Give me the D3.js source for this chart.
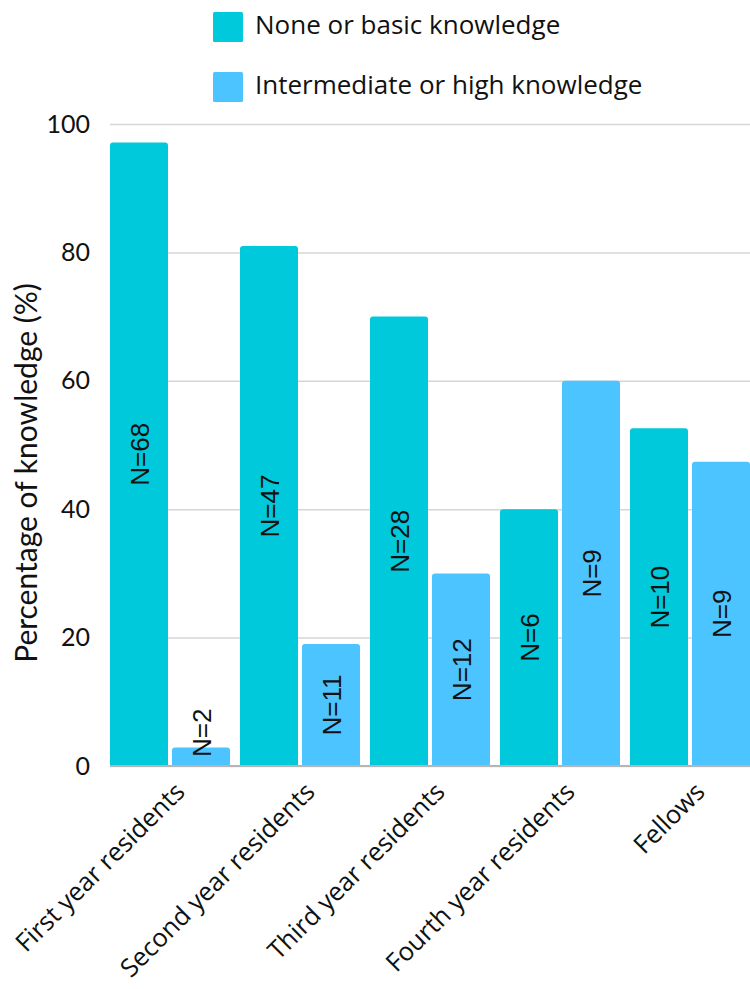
<!DOCTYPE html>
<html>
<head>
<meta charset="utf-8">
<script src="https://cdn.jsdelivr.net/npm/d3@7"></script>
<style>
  html, body { margin: 0; padding: 0; background: #fff; }
  svg { display: block; }
</style>
</head>
<body>
<svg id="chart" width="750" height="989"></svg>
<script>
const categories = ["First year residents", "Second year residents", "Third year residents", "Fourth year residents", "Fellows"];
const seriesNames = ["None or basic knowledge", "Intermediate or high knowledge"];
const basicValues = [97.1, 81.0, 70.0, 40.0, 52.6];
const highValues = [2.9, 19.0, 30.0, 60.0, 47.4];
const basicCounts = ["N=68", "N=47", "N=28", "N=6", "N=10"];
const highCounts = ["N=2", "N=11", "N=12", "N=9", "N=9"];
const yTicks = [0, 20, 40, 60, 80, 100];
const colors = ["#00C9DC", "#4BC4FF"];

(function () {
const svg = d3.select("#chart");
const plotTop = 124, plotBottom = 766, plotLeft = 110, plotRight = 750;

const x0 = d3.scaleBand().domain(categories).range([plotLeft, plotRight]).paddingInner(10 / 130).paddingOuter(0);
const x1 = d3.scaleBand().domain(seriesNames).range([0, x0.bandwidth()]).paddingInner(4 / 62).paddingOuter(0);
const y = d3.scaleLinear().domain([0, 100]).range([plotBottom, plotTop]);

const yAxis = d3.axisLeft(y).tickValues(yTicks).tickSize(-(plotRight - plotLeft)).tickPadding(20).tickFormat(d3.format("d"));
const gAxis = svg.append("g").attr("transform", `translate(${plotLeft},0)`).call(yAxis);
gAxis.select(".domain").remove();
gAxis.selectAll(".tick line").attr("stroke", "#d6d6d6").attr("stroke-width", 1.5);
gAxis.selectAll(".tick text")
  .attr("font-family", "Lato, 'Open Sans', sans-serif")
  .attr("font-size", 25)
  .attr("fill", "#111")
  .attr("x", -20);

const rows = categories.map((c, i) => ({
  cat: c,
  items: [
    { s: seriesNames[0], v: basicValues[i], n: basicCounts[i], c: colors[0] },
    { s: seriesNames[1], v: highValues[i], n: highCounts[i], c: colors[1] }
  ]
}));

const r = 3;
function topRoundedBar(xp, yp, w, h) {
  const rr = Math.min(r, h, w / 2);
  return `M${xp},${yp + h} V${yp + rr} Q${xp},${yp} ${xp + rr},${yp} H${xp + w - rr} Q${xp + w},${yp} ${xp + w},${yp + rr} V${yp + h} Z`;
}

const groups = svg.append("g").selectAll("g").data(rows).join("g")
  .attr("transform", d => `translate(${x0(d.cat)},0)`);

groups.selectAll("path").data(d => d.items).join("path")
  .attr("d", d => topRoundedBar(x1(d.s), y(d.v), x1.bandwidth(), y(0) - y(d.v)))
  .attr("fill", d => d.c);

svg.append("line").attr("x1", plotLeft).attr("x2", plotRight).attr("y1", y(0)).attr("y2", y(0))
  .attr("stroke", "#b5b5b5").attr("stroke-width", 2);

groups.selectAll("text.n").data(d => d.items).join("text")
  .attr("class", "n")
  .attr("font-family", "'Liberation Sans', Arial, sans-serif")
  .attr("font-size", 26)
  .attr("fill", "#111")
  .attr("text-anchor", "middle")
  .attr("dy", "0.36em")
  .text(d => d.n)
  .attr("transform", function (d) {
    const len = this.getComputedTextLength();
    const cx = x1(d.s) + x1.bandwidth() / 2 + 1;
    let cy = y(d.v / 2);
    cy = Math.min(cy, y(0) - 9 - len / 2);
    return `translate(${cx},${cy}) rotate(-90)`;
  });

svg.append("g").selectAll("text").data(categories).join("text")
  .attr("font-family", "'Open Sans', Lato, sans-serif")
  .attr("font-size", 25.5)
  .attr("fill", "#111")
  .attr("text-anchor", "end")
  .attr("dy", "0.35em")
  .attr("transform", d => `translate(${x0(d) + x0.bandwidth() / 2 + 10},${plotBottom + 21}) rotate(-45)`)
  .text(d => d);

svg.append("text")
  .attr("font-family", "Lato, 'Open Sans', sans-serif")
  .attr("font-size", 30)
  .attr("fill", "#111")
  .attr("text-anchor", "middle")
  .attr("transform", `translate(37,${(plotTop + plotBottom) / 2 + 28}) rotate(-90)`)
  .text("Percentage of knowledge (%)");

const legend = svg.append("g").selectAll("g").data(seriesNames).join("g")
  .attr("transform", (d, i) => `translate(213,${12 + i * 60})`);
legend.append("rect").attr("width", 30).attr("height", 30).attr("rx", 1.5)
  .attr("fill", (d, i) => colors[i]);
legend.append("text")
  .attr("x", 42).attr("y", 22)
  .attr("font-family", "'Open Sans', Lato, sans-serif")
  .attr("font-size", 26)
  .attr("fill", "#111")
  .text(d => d);
})();
</script>
</body>
</html>
